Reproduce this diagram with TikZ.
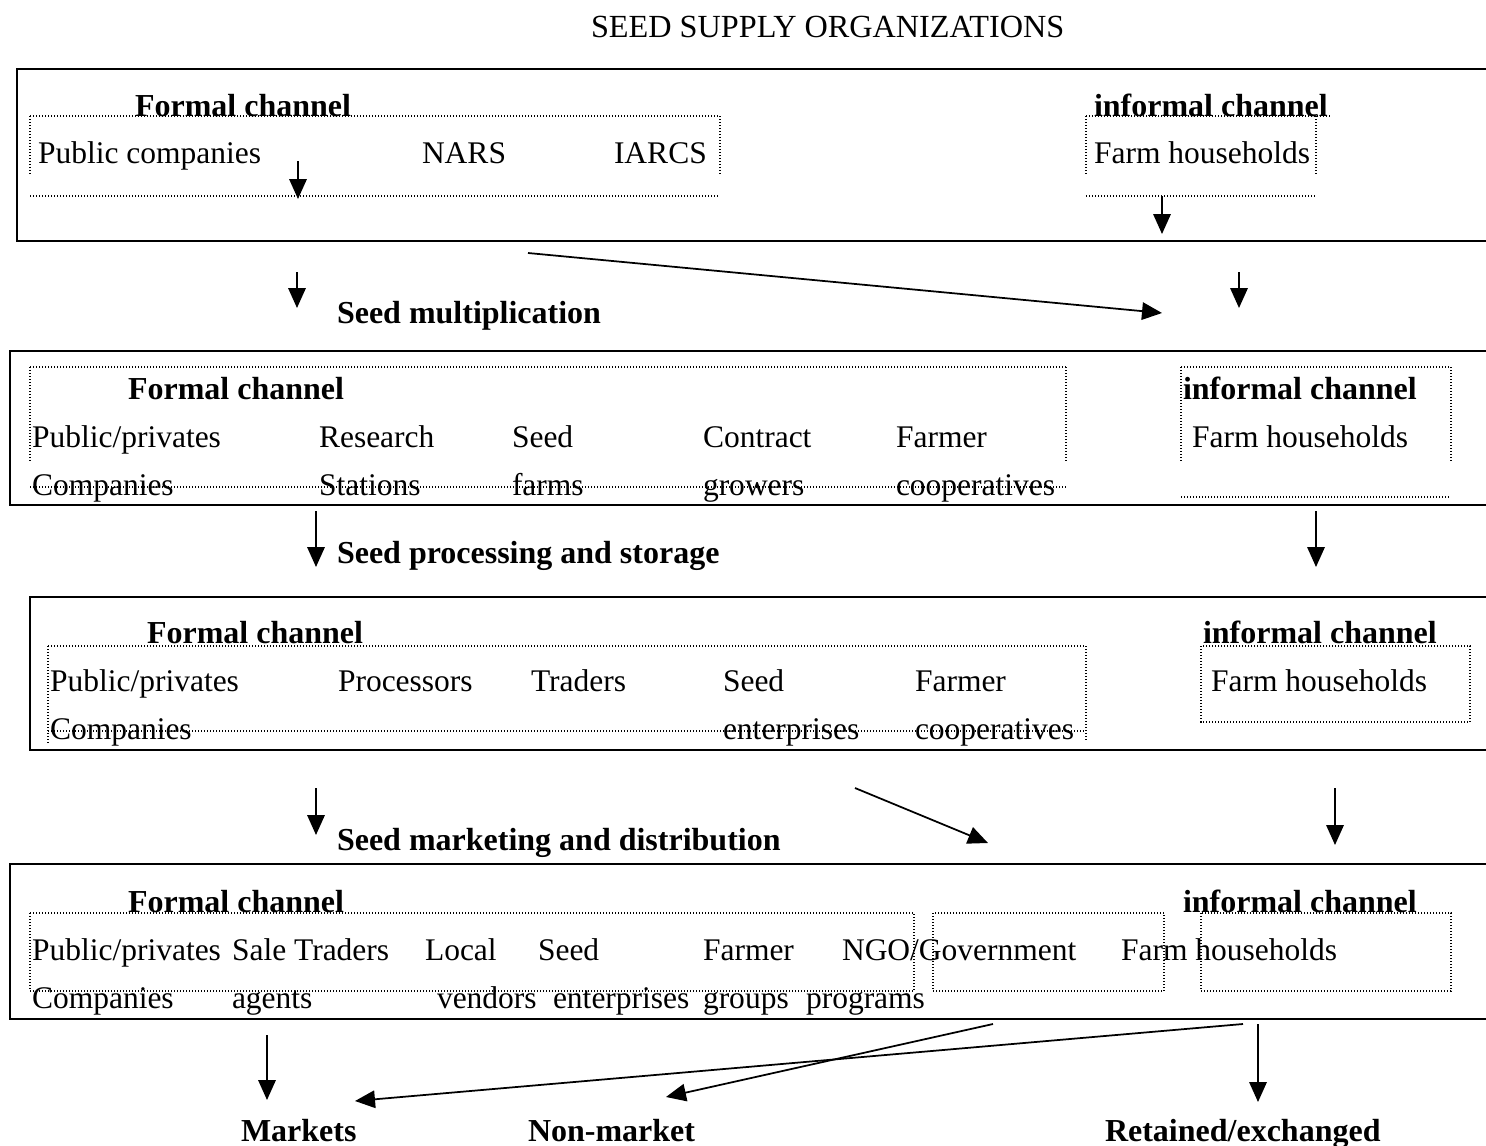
\documentclass[tikz,border=0pt]{standalone}
\usepackage{fontspec}
\setmainfont{Liberation Serif}
\usetikzlibrary{arrows.meta}
\tikzset{
  x=0.4pt, y=-0.4pt,
  every node/.style={inner sep=0pt, outer sep=0pt, font=\fontsize{12.6}{15}\selectfont},
  txt/.style={anchor=base west},
  hdr/.style={anchor=base west, font=\fontsize{12.8}{15}\selectfont\bfseries},
  solidbox/.style={draw, line width=0.8pt},
  dotline/.style={draw, line width=0.5pt, dash pattern=on 0.5pt off 0.7pt},
  arr/.style={draw, line width=0.7pt, -{Triangle[length=8pt,width=7pt]}},
}
\begin{document}
\begin{tikzpicture}
\useasboundingbox (0,0) rectangle (1486,1146);

% title
\node[txt, font=\fontsize{12.9}{15}\selectfont] (title) at (591,37) {SEED SUPPLY ORGANIZATIONS};

% ---------- Box 1 ----------
\draw[solidbox] (1490,69) -- (17,69) -- (17,241) -- (1490,241);
\draw[dotline] (30,116) -- (720,116);
\draw[dotline] (30,116) -- (30,174);
\draw[dotline] (720,116) -- (720,174);
\draw[dotline] (30,196) -- (720,196);
\draw[dotline] (1086,116) -- (1332,116);
\draw[dotline] (1086,116) -- (1086,175);
\draw[dotline] (1316,116) -- (1316,175);
\draw[dotline] (1086,196) -- (1316,196);
\node[hdr] (f1) at (135,116) {Formal channel};
\node[hdr] (i1) at (1094,116) {informal channel};
\node[txt] (pc1) at (38,163) {Public companies};
\node[txt] (nars) at (422,163) {NARS};
\node[txt] (iarcs) at (614,163) {IARCS};
\node[txt] (fh1) at (1094,163) {Farm households};
\coordinate (a1s) at (298,161); \coordinate (a1e) at (298,199);
\coordinate (a2s) at (1162,196); \coordinate (a2e) at (1162,234);
\draw[arr] (a1s) -- (a1e);
\draw[arr] (a2s) -- (a2e);

% ---------- between 1 and 2 ----------
\node[hdr] (smult) at (337,323) {Seed multiplication};
\coordinate (a3s) at (297,272); \coordinate (a3e) at (297,308);
\coordinate (a4s) at (528,253); \coordinate (a4e) at (1162,313);
\coordinate (a5s) at (1239,272); \coordinate (a5e) at (1239,308);
\draw[arr] (a3s) -- (a3e);
\draw[arr] (a4s) -- (a4e);
\draw[arr] (a5s) -- (a5e);

% ---------- Box 2 ----------
\draw[solidbox] (1490,351) -- (10,351) -- (10,505) -- (1490,505);
\draw[dotline] (30,367) -- (1066,367);
\draw[dotline] (30,367) -- (30,463);
\draw[dotline] (1066,367) -- (1066,463);
\draw[dotline] (30,487) -- (1066,487);
\draw[dotline] (1181,367) -- (1451,367);
\draw[dotline] (1181,367) -- (1181,463);
\draw[dotline] (1451,367) -- (1451,463);
\draw[dotline] (1181,497) -- (1451,497);
\node[hdr] (f2) at (128,399) {Formal channel};
\node[hdr] (i2) at (1183,399) {informal channel};
\node[txt] (pp2) at (32,447) {Public/privates};
\node[txt] (rs2) at (319,447) {Research};
\node[txt] (sd2) at (512,447) {Seed};
\node[txt] (ct2) at (703,447) {Contract};
\node[txt] (fa2) at (896,447) {Farmer};
\node[txt] (fh2) at (1192,447) {Farm households};
\node[txt] (co2) at (32,495) {Companies};
\node[txt] (st2) at (319,495) {Stations};
\node[txt] (fm2) at (512,495) {farms};
\node[txt] (gr2) at (703,495) {growers};
\node[txt] (cp2) at (896,495) {cooperatives};

% ---------- between 2 and 3 ----------
\node[hdr] (sproc) at (337,563) {Seed processing and storage};
\coordinate (a6s) at (316,511); \coordinate (a6e) at (316,567);
\coordinate (a7s) at (1316,511); \coordinate (a7e) at (1316,567);
\draw[arr] (a6s) -- (a6e);
\draw[arr] (a7s) -- (a7e);

% ---------- Box 3 ----------
\draw[solidbox] (1490,597) -- (30,597) -- (30,750) -- (1490,750);
\draw[dotline] (48,646) -- (1086,646);
\draw[dotline] (48,646) -- (48,745);
\draw[dotline] (1086,646) -- (1086,742);
\draw[dotline] (48,731) -- (1086,731);
\draw[dotline] (1201,646) rectangle (1470,722);
\node[hdr] (f3) at (147,643) {Formal channel};
\node[hdr] (i3) at (1203,643) {informal channel};
\node[txt] (pp3) at (50,691) {Public/privates};
\node[txt] (pr3) at (338,691) {Processors};
\node[txt] (tr3) at (531,691) {Traders};
\node[txt] (sd3) at (723,691) {Seed};
\node[txt] (fa3) at (915,691) {Farmer};
\node[txt] (fh3) at (1211,691) {Farm households};
\node[txt] (co3) at (50,739) {Companies};
\node[txt] (en3) at (723,739) {enterprises};
\node[txt] (cp3) at (915,739) {cooperatives};

% ---------- between 3 and 4 ----------
\node[hdr] (smark) at (337,850) {Seed marketing and distribution};
\coordinate (a8s) at (316,788); \coordinate (a8e) at (316,835);
\coordinate (a9s) at (855,788); \coordinate (a9e) at (988,843);
\coordinate (a10s) at (1335,788); \coordinate (a10e) at (1335,845);
\draw[arr] (a8s) -- (a8e);
\draw[arr] (a9s) -- (a9e);
\draw[arr] (a10s) -- (a10e);

% ---------- Box 4 ----------
\draw[solidbox] (1490,864) -- (10,864) -- (10,1019) -- (1490,1019);
\draw[dotline] (30,913) rectangle (914,991);
\draw[dotline] (933,913) rectangle (1164,991);
\draw[dotline] (1201,913) rectangle (1451,991);
\node[hdr] (f4) at (128,912) {Formal channel};
\node[hdr] (i4) at (1183,912) {informal channel};
\node[txt] (pp4) at (32,960) {Public/privates};
\node[txt] (sa4) at (232,960) {Sale Traders};
\node[txt] (lo4) at (425,960) {Local};
\node[txt] (sd4) at (538,960) {Seed};
\node[txt] (fa4) at (703,960) {Farmer};
\node[txt] (ng4) at (842,960) {NGO/Government};
\node[txt] (fh4) at (1121,960) {Farm households};
\node[txt] (co4) at (32,1008) {Companies};
\node[txt] (ag4) at (232,1008) {agents};
\node[txt] (ve4) at (437,1008) {vendors};
\node[txt] (en4) at (553,1008) {enterprises};
\node[txt] (gp4) at (703,1008) {groups};
\node[txt] (pg4) at (806,1008) {programs};

% ---------- outcomes ----------
\node[hdr] (mk) at (241,1141) {Markets};
\node[hdr] (nm) at (528,1141) {Non-market};
\node[hdr] (re) at (1105,1141) {Retained/exchanged};
\coordinate (a11s) at (267,1035); \coordinate (a11e) at (267,1100);
\coordinate (a12s) at (1243,1024); \coordinate (a12e) at (355,1101);
\coordinate (a13s) at (993,1024); \coordinate (a13e) at (666,1097);
\coordinate (a14s) at (1258,1024); \coordinate (a14e) at (1258,1102);
\draw[arr] (a11s) -- (a11e);
\draw[arr] (a12s) -- (a12e);
\draw[arr] (a13s) -- (a13e);
\draw[arr] (a14s) -- (a14e);
\end{tikzpicture}
\end{document}
